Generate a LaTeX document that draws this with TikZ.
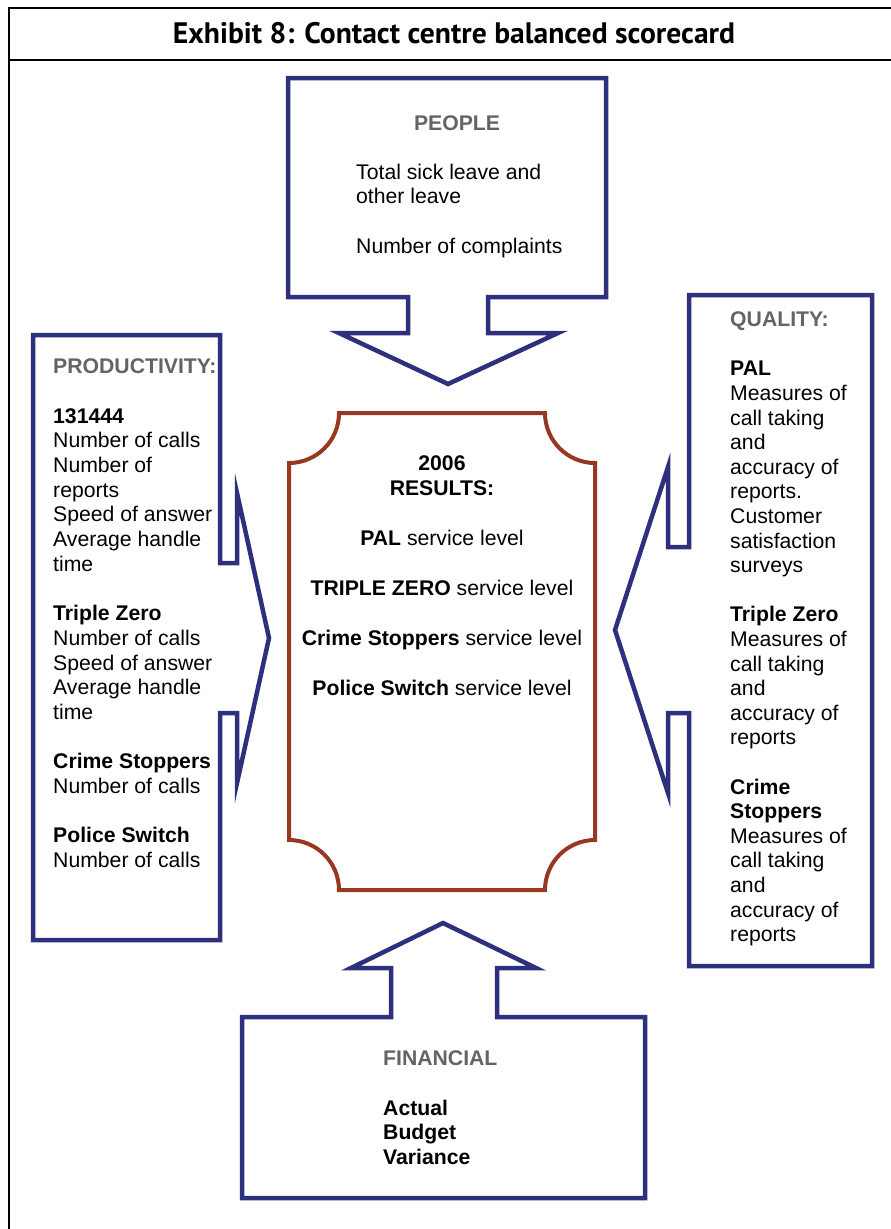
\documentclass[tikz,border=0pt]{standalone}
\usepackage{fontspec}
\setmainfont{Liberation Sans}
\newfontfamily\titlefont{PT Sans}
\definecolor{navy}{RGB}{45,48,125}
\definecolor{rust}{RGB}{152,56,34}
\definecolor{headgray}{RGB}{100,100,100}
\newcommand{\hd}[1]{\textcolor{headgray}{\textbf{#1}}}
\begin{document}
\begin{tikzpicture}[x=1pt, y=-1pt,
    card/.style={draw=navy, line width=4.5pt, line join=miter},
    results/.style={draw=rust, line width=4pt},
    txt/.style={inner sep=0pt, anchor=north west, align=left,
      font=\fontsize{21.2}{24.7}\selectfont, execute at begin node=\rule{0pt}{18pt}}]
    \useasboundingbox (0,0) rectangle (891,1229);
    % frame and title
    \draw[line width=2pt] (891,7.5) -- (9,7.5) -- (9,1229);
    \draw[line width=2pt] (9,59.5) -- (891,59.5);
    \node (title) at (454,33) {\titlefont\bfseries\fontsize{29.6}{32}\selectfont Exhibit 8: Contact centre balanced scorecard};
    % texts (top of node = first baseline - 18)
    \node (peoplehead) [txt, anchor=north] at (457,112.6) {\hd{PEOPLE}};
    \node (people) [txt] at (356,163.6) {Total sick leave and\\ other leave\\[24.7pt] Number of complaints};
    \node (prod) [txt] at (53,358.6) {\hd{PRODUCTIVITY:}\\[24.7pt]
        \textbf{131444}\\ Number of calls\\ Number of\\ reports\\ Speed of answer\\ Average handle\\ time\\[24.7pt]
        \textbf{Triple Zero}\\ Number of calls\\ Speed of answer\\ Average handle\\ time\\[24.7pt]
        \textbf{Crime Stoppers}\\ Number of calls\\[24.7pt]
        \textbf{Police Switch}\\ Number of calls};
    \node (quality) [txt, font=\fontsize{21.2}{24.6}\selectfont] at (730,311.6) {\hd{QUALITY:}\\[24.6pt]
        \textbf{PAL}\\ Measures of\\ call taking\\ and\\ accuracy of\\ reports.\\ Customer\\ satisfaction\\ surveys\\[24.6pt]
        \textbf{Triple Zero}\\ Measures of\\ call taking\\ and\\ accuracy of\\ reports\\[24.6pt]
        \textbf{Crime}\\ \textbf{Stoppers}\\ Measures of\\ call taking\\ and\\ accuracy of\\ reports};
    \node (res) [txt, anchor=north, align=center, font=\fontsize{21.2}{25}\selectfont] at (442,455.6) {\textbf{2006}\\ \textbf{RESULTS:}\\[25pt]
        \textbf{PAL} service level\\[25pt]
        \textbf{TRIPLE ZERO} service level\\[25pt]
        \textbf{Crime Stoppers} service level\\[25pt]
        \textbf{Police Switch} service level};
    \node (fin) [txt] at (383,1050.6) {\hd{FINANCIAL}\\[24.7pt] \textbf{Actual}\\ \textbf{Budget}\\ \textbf{Variance}};
    % arrow shapes
    \draw[card] (288,78) -- (606,78) -- (606,297) -- (488,297) -- (488,333) -- (558,333) -- (448,384)
        -- (339,333) -- (408,333) -- (408,297) -- (288,297) -- cycle;
    \draw[card] (33,335) -- (220,335) -- (220,563) -- (237,563) -- (237,493) -- (269,638) -- (237,783)
        -- (237,713) -- (220,713) -- (220,940) -- (33,940) -- cycle;
    \draw[card] (689,295) -- (872,295) -- (872,966) -- (689,966) -- (689,713) -- (668,713) -- (668,793)
        -- (615,630) -- (668,467) -- (668,547) -- (689,547) -- cycle;
    \draw[card] (242,1017) -- (391,1017) -- (391,968) -- (351,968) -- (443,923) -- (536,968) -- (497,968)
        -- (497,1017) -- (645,1017) -- (645,1198) -- (242,1198) -- cycle;
    % results plaque
    \draw[results] (339,413) -- (545,413) arc (180:90:50) -- (595,840) arc (270:180:50)
        -- (339,890) arc (0:-90:50) -- (289,463) arc (90:0:50) -- cycle;
\end{tikzpicture}
\end{document}
